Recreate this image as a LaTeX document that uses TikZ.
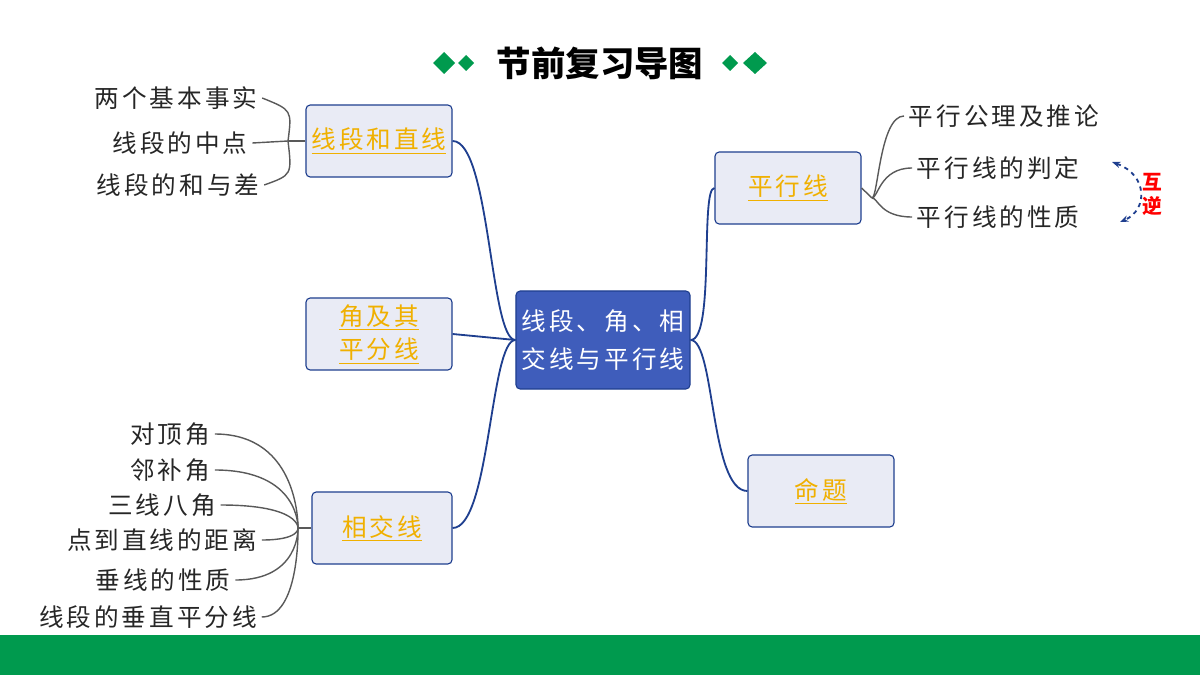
\documentclass[tikz,border=0pt]{standalone}
\usepackage{fontspec}
\setmainfont[LetterSpace=12]{Noto Sans CJK SC}
\newfontfamily\titlefont{Noto Sans CJK SC}
\usetikzlibrary{arrows.meta}
\definecolor{dgreen}{HTML}{009A4E}
\definecolor{mainblue}{HTML}{3F5DBB}
\definecolor{linkblue}{HTML}{1F3F8F}
\definecolor{boxfill}{HTML}{E9EBF5}
\definecolor{gold}{HTML}{F0B000}

\begin{document}
\begin{tikzpicture}[x=0.025cm,y=-0.025cm,
  topic/.style={draw=linkblue,thick,rounded corners=3pt,fill=boxfill,text=gold,font=\fontsize{17.5}{24}\selectfont,align=center,minimum height=1.8cm,inner sep=1pt},
  hub/.style={draw=linkblue,thick,rounded corners=3pt,fill=mainblue,text=white,font=\fontsize{17.5}{27}\selectfont,align=center,minimum width=4.35cm,minimum height=2.45cm,inner sep=0pt},
  leaf/.style={font=\fontsize{17.5}{22}\selectfont,text=black!85},
  link/.style={draw=linkblue,line width=1.3pt},
  twig/.style={draw=black!65,line width=1pt}]
\useasboundingbox (0,0) rectangle (1200,675);
\fill[dgreen] (0,635) rectangle (1200,675);
%title
  \node[font=\titlefont\fontsize{24.5}{28}\selectfont\bfseries] (title) at (600,63) {节前复习导图};
  \fill[dgreen] (433,63) -- (444,52) -- (455,63) -- (444,74) -- cycle;
  \fill[dgreen] (458,63) -- (466,55) -- (474,63) -- (466,71) -- cycle;
  \fill[dgreen] (722,63) -- (730,55) -- (738,63) -- (730,71) -- cycle;
  \fill[dgreen] (743,63) -- (755,52) -- (767,63) -- (755,74) -- cycle;
%hub
  \node[hub] (hub) at (603,340) {线段、角、相\\交线与平行线};
%topics
  \node[topic,minimum width=3.65cm] (seg) at (379,141) {\underline{线段和直线}};
  \node[topic,minimum width=3.65cm] (ang) at (379,334) {\underline{角及其}\\\underline{平分线}};
  \node[topic,minimum width=3.5cm] (cross) at (382,528) {\underline{相交线}};
  \node[topic,minimum width=3.65cm] (par) at (788,188) {\underline{平行线}};
  \node[topic,minimum width=3.65cm] (prop) at (821,491) {\underline{命题}};
%links
  \draw[link] (hub.west) .. controls (490,340) and (490,141) .. (seg.east);
  \draw[link] (hub.west) -- (ang.east);
  \draw[link] (hub.west) .. controls (490,340) and (490,528) .. (cross.east);
  \draw[link] (hub.east) .. controls (715,340) and (700,188) .. (par.west);
  \draw[link] (hub.east) .. controls (715,340) and (710,491) .. (prop.west);
%leaves of seg
  \node[leaf] (s1) at (176,98) {两个基本事实};
  \node[leaf] (s2) at (180,143) {线段的中点};
  \node[leaf] (s3) at (178,185) {线段的和与差};
  \draw[twig] (seg.west) -- (288,141);
  \draw[twig] (288,141) .. controls (292,110) .. (s1.east);
  \draw[twig] (288,141) -- (s2.east);
  \draw[twig] (288,141) .. controls (292,175) .. (s3.east);
%leaves of cross
  \node[leaf] (c1) at (170,434) {对顶角};
  \node[leaf] (c2) at (170,470) {邻补角};
  \node[leaf] (c3) at (162,505) {三线八角};
  \node[leaf] (c4) at (162,540) {点到直线的距离};
  \node[leaf] (c5) at (163,580) {垂线的性质};
  \node[leaf] (c6) at (148,617) {线段的垂直平分线};
  \coordinate (cj) at (298,528);
  \draw[twig] (cross.west) -- (cj);
  \foreach \n in {c1,c2,c3,c4,c5,c6}
    \draw[twig] (cj) .. controls (298,528) and (300,0 |- \n.east) .. (\n.east);
%leaves of par
  \node[leaf,anchor=west] (p1) at (904,116) {平行公理及推论};
  \node[leaf,anchor=west] (p2) at (912,168) {平行线的判定};
  \node[leaf,anchor=west] (p3) at (912,217) {平行线的性质};
  \coordinate (pj) at (872,198);
  \draw[twig] (par.east) -- (pj);
  \foreach \n in {p1,p2,p3}
    \draw[twig] (pj) .. controls (878,198) and (880,0 |- \n.west) .. (\n.west);
%inverse
  \draw[linkblue,line width=1.3pt,dashed,{Stealth[length=6pt]}-{Stealth[length=6pt]}] (1112,162) .. controls (1148,175) and (1148,210) .. (1120,222);
  \node[text=red,font=\titlefont\fontsize{14}{17}\selectfont\bfseries,align=center] (inv) at (1152,194) {互\\逆};
\end{tikzpicture}
\end{document}
